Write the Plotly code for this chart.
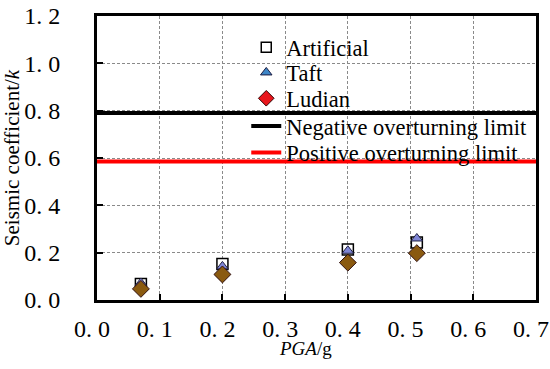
import plotly.graph_objects as go

pga = [0.07, 0.2, 0.4, 0.51]
artificial = [0.068, 0.152, 0.213, 0.243]
taft = [0.072, 0.142, 0.208, 0.26]
ludian = [0.047, 0.108, 0.158, 0.198]
negative_limit = 0.79
positive_limit = 0.585
x_range = [0.0, 0.7]
x_ticks = [0.0, 0.1, 0.2, 0.3, 0.4, 0.5, 0.6, 0.7]
x_ticktext = ["0. 0", "0. 1", "0. 2", "0. 3", "0. 4", "0. 5", "0. 6", "0. 7"]
y_ticks = [0.0, 0.2, 0.4, 0.6, 0.8, 1.0, 1.2]
y_ticktext = ["0. 0", "0. 2", "0. 4", "0. 6", "0. 8", "1. 0", "1. 2"]

FONT = "Liberation Serif"
LEG_FONT = 22.5
TICK_FONT = 24
fig = go.Figure()

# limit lines
fig.add_trace(go.Scatter(x=x_range, y=[negative_limit] * 2, mode="lines",
                         line=dict(color="black", width=4), showlegend=False, hoverinfo="skip"))
fig.add_trace(go.Scatter(x=x_range, y=[positive_limit] * 2, mode="lines",
                         line=dict(color="#ff0000", width=4), showlegend=False, hoverinfo="skip"))

# data markers
fig.add_trace(go.Scatter(x=pga, y=artificial, mode="markers", showlegend=False,
                         marker=dict(symbol="square", size=11, color="white",
                                     line=dict(color="black", width=1.5))))
fig.add_trace(go.Scatter(x=pga, y=taft, mode="markers", showlegend=False,
                         marker=dict(symbol="triangle-up", size=10, color="#7f86d6",
                                     line=dict(color="#202040", width=1))))
fig.add_trace(go.Scatter(x=pga, y=ludian, mode="markers", showlegend=False,
                         marker=dict(symbol="diamond", size=13, color="#8a5a10",
                                     line=dict(color="#301010", width=1))))

# legend entries (each in its own legend box for exact spacing)
fig.add_trace(go.Scatter(x=[None], y=[None], mode="markers", name="Artificial", legend="legend",
                         marker=dict(symbol="square", size=10, color="white",
                                     line=dict(color="black", width=1.5))))
fig.add_trace(go.Scatter(x=[None], y=[None], mode="markers", name="Taft", legend="legend2",
                         marker=dict(symbol="triangle-up", size=10, color="#3d85c6",
                                     line=dict(color="#1a1a40", width=1))))
fig.add_trace(go.Scatter(x=[None], y=[None], mode="markers", name="Ludian", legend="legend3",
                         marker=dict(symbol="diamond", size=12, color="#e8161c",
                                     line=dict(color="#300000", width=1))))
fig.add_trace(go.Scatter(x=[None], y=[None], mode="lines", name="Negative overturning limit",
                         legend="legend4", line=dict(color="black", width=4)))
fig.add_trace(go.Scatter(x=[None], y=[None], mode="lines", name="Positive overturning limit",
                         legend="legend5", line=dict(color="#ff0000", width=4)))

leg_x = 0.34
leg_ys = [0.889, 0.800, 0.709, 0.611, 0.518]


def leg(y):
    return dict(x=leg_x, y=y, xanchor="left", yanchor="middle",
                bgcolor="rgba(0,0,0,0)", font=dict(family=FONT, size=LEG_FONT),
                itemwidth=30, borderwidth=0)


fig.update_layout(
    width=550, height=369,
    margin=dict(l=97, r=14, t=16, b=69),
    paper_bgcolor="white", plot_bgcolor="white",
    font=dict(family=FONT, size=20, color="black"),
    legend=leg(leg_ys[0]), legend2=leg(leg_ys[1]), legend3=leg(leg_ys[2]),
    legend4=leg(leg_ys[3]), legend5=leg(leg_ys[4]),
    xaxis=dict(range=x_range, tickvals=x_ticks, ticktext=x_ticktext,
               showline=True, linecolor="black", linewidth=3, mirror=True,
               ticks="inside", ticklen=6, tickwidth=2, tickcolor="black",
               showgrid=True, gridcolor="#8a8a8a", griddash="3px,2px", gridwidth=1,
               zeroline=False, tickfont=dict(family=FONT, size=TICK_FONT),
               automargin=False, ticklabelstandoff=5, ticklabelshift=-5),
    yaxis=dict(range=[0, 1.2], tickvals=y_ticks, ticktext=y_ticktext,
               showline=True, linecolor="black", linewidth=3, mirror=True,
               ticks="inside", ticklen=6, tickwidth=2, tickcolor="black",
               showgrid=True, gridcolor="#8a8a8a", griddash="3px,2px", gridwidth=1,
               zeroline=False, tickfont=dict(family=FONT, size=TICK_FONT),
               automargin=False, ticklabelstandoff=29,
               title=dict(text="Seismic coefficient/<i>k</i>", font=dict(family=FONT, size=21),
                          standoff=0)),
    annotations=[dict(text="<i>PGA</i>/g", xref="paper", yref="paper", x=0.474, y=-0.17,
                      xanchor="center", yanchor="middle", showarrow=False,
                      font=dict(family=FONT, size=19))],
)

fig.write_html("out.html", config={"displayModeBar": False},
               post_script="document.body.style.margin='0';")
